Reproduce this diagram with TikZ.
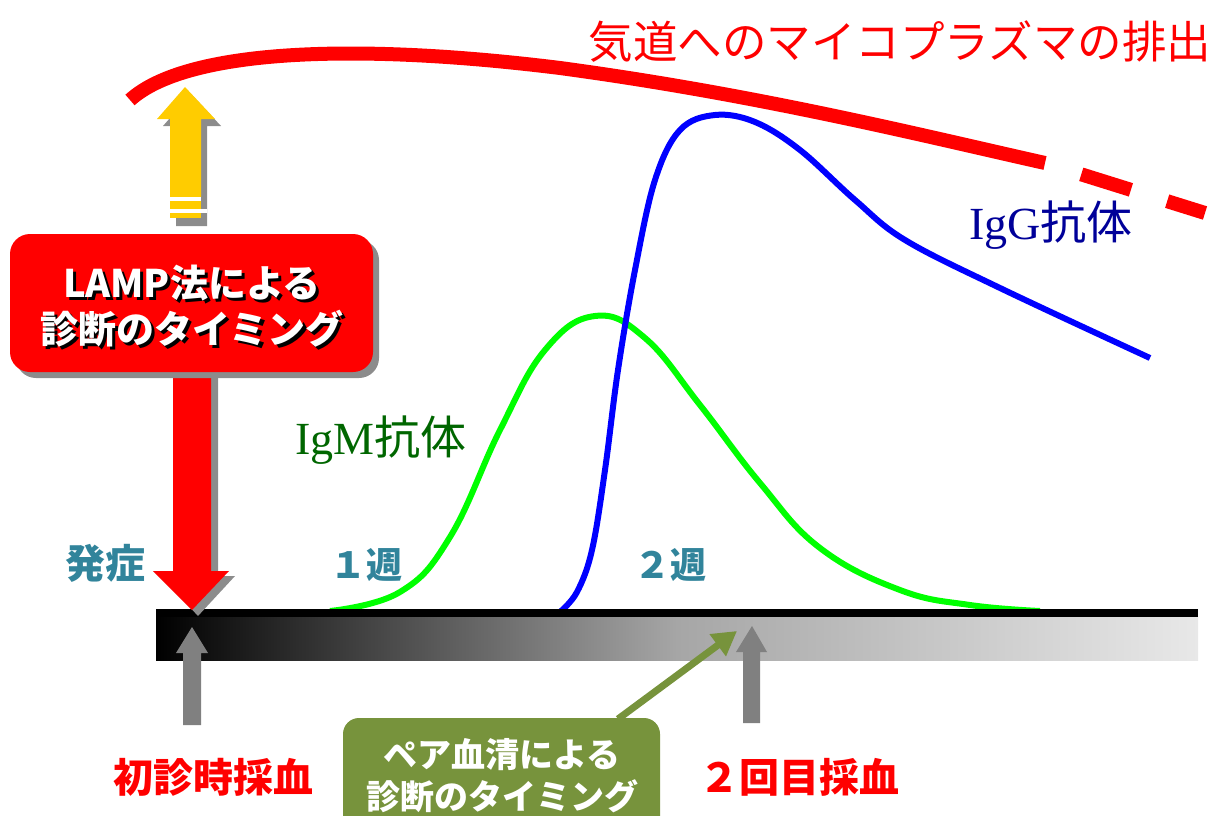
\documentclass[tikz,border=0pt]{standalone}
\usepackage{fontspec}
\setmainfont{Liberation Serif}
\newfontfamily\jp{Noto Sans CJK JP}
\usetikzlibrary{arrows.meta}
\definecolor{tealtxt}{HTML}{31849B}
\definecolor{olivebox}{HTML}{77933C}
\definecolor{gold}{HTML}{FFCC00}
\definecolor{shadowgray}{HTML}{8C8C8C}
\definecolor{igmgreen}{HTML}{006600}
\definecolor{iggblue}{HTML}{000099}
\definecolor{barmid}{HTML}{A6A6A6}
\definecolor{barend}{HTML}{E8E8E8}
\begin{document}
\begin{tikzpicture}[x=1pt,y=-1pt,
  jpbig/.style={font=\jp\bfseries\fontsize{40}{46}\selectfont},
  boxtext/.style={font=\jp\bfseries\fontsize{38}{48}\selectfont, align=center, inner sep=0pt},
  serlabel/.style={font=\fontsize{46}{50}\selectfont, inner sep=0pt},
]
\useasboundingbox (0,0) rectangle (1213,816);

% excretion curve
\draw[red, line width=14pt] (130,100) .. controls (185,50) and (350,42) .. (560,68)
   .. controls (760,95) and (920,135) .. (1045,163);
\coordinate (rs) at (1045,163);
\coordinate (re) at (1205,213);
\draw[red, line width=14pt, dash pattern=on 52pt off 38pt, dash phase=52pt] (rs) -- (re);
\node[red, font=\jp\fontsize{44.5}{50}\selectfont, inner sep=0pt] (title) at (900,42) {気道へのマイコプラズマの排出};

% IgM curve
\draw[green, line width=6pt] plot[smooth, tension=0.7] coordinates {(330,611) (400,592) (450,537) (500,430) (545,350) (595,316) (645,338) (700,405) (760,483) (820,548) (900,590) (970,605) (1040,611)};
% IgG curve
\draw[blue, line width=6pt] plot[smooth, tension=0.6] coordinates {(560,612) (577,592) (592,550) (605,470) (618,370) (635,270) (655,180) (680,130) (715,115) (755,122) (800,150) (855,200) (905,240) (1000,288) (1150,358)};

\node[serlabel, text=igmgreen] (igm) at (381,440) {IgM{\jp 抗体}};
\node[serlabel, text=iggblue] (igg) at (1051,225) {IgG{\jp 抗体}};

% time bar
\shade[left color=black, right color=barend, middle color=barmid] (156,609) rectangle (1198,660);
\fill[black] (156,609) rectangle (1198,617);

% yellow arrow
\fill[shadowgray] (176,226) -- (176,126) -- (163,126) -- (191,94) -- (221,126) -- (207,126) -- (207,226) -- cycle;
\fill[gold] (170,197) -- (170,119) -- (157,119) -- (185,87) -- (215,119) -- (201,119) -- (201,197) -- cycle;
\fill[white] (170,197) rectangle (201,201);
\fill[gold] (170,201) rectangle (201,209);
\fill[white] (170,209) rectangle (207,213);
\fill[gold] (170,213) rectangle (201,218);

% red LAMP box with shadow and down arrow
\fill[shadowgray] (179,376) -- (179,576) -- (161,576) -- (198,616) -- (235,576) -- (218,576) -- (218,376) -- cycle;
\fill[red] (173,370) -- (173,571) -- (153,571) -- (192,610) -- (229,571) -- (211,571) -- (211,370) -- cycle;
\fill[shadowgray, rounded corners=20pt] (16,240) rectangle (379,378);
\node[fill=red, rounded corners=20pt, minimum width=363pt, minimum height=138pt, inner sep=0pt] (lamp) at (191.5,303) {};
\node[boxtext, text=black] (lampsh) at (195,309) {LAMP法による\\[-2pt]診断のタイミング};
\node[boxtext, text=white] (lamptext) at (192,306) {LAMP法による\\[-2pt]診断のタイミング};

% labels on axis
\node[jpbig, text=tealtxt, inner sep=0pt] (onset) at (105,563) {発症};
\node[font=\jp\bfseries\fontsize{36}{40}\selectfont, text=tealtxt, inner sep=0pt] (w1) at (366,565) {１週};
\node[font=\jp\bfseries\fontsize{36}{40}\selectfont, text=tealtxt, inner sep=0pt] (w2) at (670,565) {２週};

% gray sampling arrows
\fill[gray] (183,725) -- (183,653) -- (176,653) -- (192,627) -- (208,653) -- (201,653) -- (201,725) -- cycle;
\fill[gray] (743,723) -- (743,652) -- (736,652) -- (752,626) -- (767,652) -- (760,652) -- (760,723) -- cycle;
\node[jpbig, text=red, inner sep=0pt] (first) at (213,777) {初診時採血};
\node[jpbig, text=red, inner sep=0pt] (second) at (799,777) {２回目採血};

% paired serum box
\node[fill=olivebox, rounded corners=16pt, minimum width=317pt, minimum height=120pt, inner sep=0pt] (pair) at (501.5,778) {};
\node[font=\jp\bfseries\fontsize{34}{42}\selectfont, text=white, align=center, inner sep=0pt] (pairtext) at (502,776) {ペア血清による\\診断のタイミング};
\coordinate (ptip) at (737,631);
\draw[olivebox, line width=7pt, -{Triangle[length=24pt,width=26pt]}] (618,719) -- (ptip);
\end{tikzpicture}
\end{document}
